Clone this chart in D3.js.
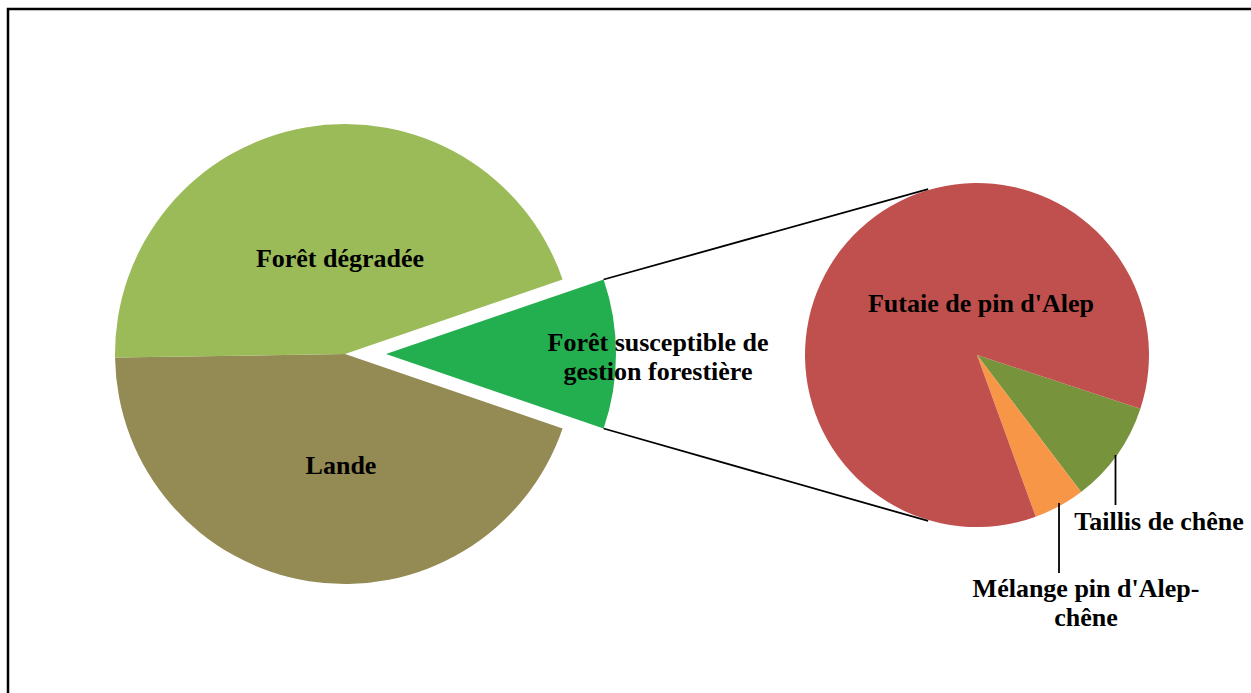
<!DOCTYPE html>
<html>
<head>
<meta charset="utf-8">
<script src="https://cdn.jsdelivr.net/npm/d3@7"></script>
<style>
  body { margin: 0; background: #fff; }
  text { font-family: "Liberation Serif", "Times New Roman", serif; font-weight: bold; font-size: 26px; fill: #000; }
</style>
</head>
<body>
<svg id="chart" width="1251" height="693"></svg>
<script>
// main pie (order: clockwise starting at the exploded slice)
var mainNames = ["Forêt susceptible de gestion forestière", "Lande", "Forêt dégradée"];
var mainValues = [10.5, 44.5, 45.0];
var mainColors = ["#23AF50", "#948A54", "#9BBB59"];

// secondary pie (breakdown of the exploded slice)
var subNames = ["Taillis de chêne", "Mélange pin d'Alep-chêne", "Futaie de pin d'Alep"];
var subValues = [9.6, 4.8, 85.6];
var subColors = ["#77933C", "#F79646", "#C0504D"];

var svg = d3.select("#chart");
var W = 1251, H = 693;

// frame
svg.append("rect")
  .attr("x", 8).attr("y", 9)
  .attr("width", W).attr("height", H)
  .attr("fill", "none")
  .attr("stroke", "#000")
  .attr("stroke-width", 2.5);

var cx = 345, cy = 354, r = 230;
var explode = 41;
var cx2 = 977, cy2 = 355, r2 = 172;

var tau = 2 * Math.PI;
var mainTotal = d3.sum(mainValues);
var first = mainValues[0] / mainTotal * tau;

var pie = d3.pie().sort(null).startAngle(Math.PI / 2 - first / 2).endAngle(Math.PI / 2 - first / 2 + tau);
var arc = d3.arc().innerRadius(0).outerRadius(r);

var mainArcs = pie(mainValues);

var g1 = svg.append("g").attr("transform", "translate(" + cx + "," + cy + ")");
g1.selectAll("path")
  .data(mainArcs)
  .enter().append("path")
  .attr("d", arc)
  .attr("fill", function(d, i){ return mainColors[i]; })
  .attr("transform", function(d, i){ return i === 0 ? "translate(" + explode + ",0)" : null; });

// secondary pie
var subStart = Math.PI / 2 + 18.2 / 180 * Math.PI;
var pie2 = d3.pie().sort(null).startAngle(subStart).endAngle(subStart + tau);
var arc2 = d3.arc().innerRadius(0).outerRadius(r2);

var g2 = svg.append("g").attr("transform", "translate(" + cx2 + "," + cy2 + ")");
g2.selectAll("path")
  .data(pie2(subValues))
  .enter().append("path")
  .attr("d", arc2)
  .attr("fill", function(d, i){ return subColors[i]; });

// connector lines
var ex = mainArcs[0];
var joinAngle = 16.4 / 180 * Math.PI;
function pt(x0, y0, rad, a){ return [x0 + rad * Math.sin(a), y0 - rad * Math.cos(a)]; }
var conn = [
  [pt(cx + explode, cy, r, ex.startAngle), pt(cx2, cy2, r2 + 1, -joinAngle)],
  [pt(cx + explode, cy, r, ex.endAngle), pt(cx2, cy2, r2 + 1, Math.PI + joinAngle)]
];
svg.selectAll("line.conn")
  .data(conn)
  .enter().append("line")
  .attr("class", "conn")
  .attr("x1", function(d){ return d[0][0]; })
  .attr("y1", function(d){ return d[0][1]; })
  .attr("x2", function(d){ return d[1][0]; })
  .attr("y2", function(d){ return d[1][1]; })
  .attr("stroke", "#000")
  .attr("stroke-width", 1.8);

// leader lines for the small slices
var leaders = [
  [[1115.5, 455], [1115.5, 505]],
  [[1059, 503], [1059, 573]]
];
svg.selectAll("line.leader")
  .data(leaders)
  .enter().append("line")
  .attr("class", "leader")
  .attr("x1", function(d){ return d[0][0]; })
  .attr("y1", function(d){ return d[0][1]; })
  .attr("x2", function(d){ return d[1][0]; })
  .attr("y2", function(d){ return d[1][1]; })
  .attr("stroke", "#000")
  .attr("stroke-width", 1.8);

// labels
var labels = [
  { lines: ["Forêt dégradée"], x: 340, y: 267, lh: 29 },
  { lines: ["Lande"], x: 341, y: 474, lh: 29 },
  { lines: ["Forêt susceptible de", "gestion forestière"], x: 658, y: 351, lh: 29 },
  { lines: ["Futaie de pin d'Alep"], x: 981, y: 312, lh: 29 },
  { lines: ["Taillis de chêne"], x: 1159, y: 530, lh: 29 },
  { lines: ["Mélange pin d'Alep-", "chêne"], x: 1086, y: 597, lh: 29 }
];
labels.forEach(function(l){
  var t = svg.append("text")
    .attr("text-anchor", "middle")
    .attr("x", l.x).attr("y", l.y);
  l.lines.forEach(function(s, i){
    t.append("tspan").attr("x", l.x).attr("dy", i === 0 ? 0 : l.lh).text(s);
  });
});
</script>
</body>
</html>
